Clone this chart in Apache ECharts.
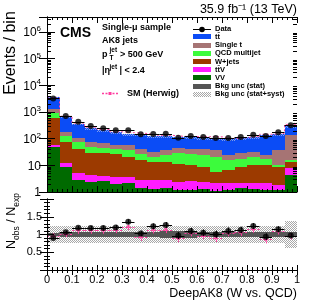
<!DOCTYPE html>
<html><head><meta charset="utf-8">
<script src="https://cdn.jsdelivr.net/npm/echarts@6/dist/echarts.min.js"></script>
<style>html,body{margin:0;padding:0;background:#fff}#c{width:316px;height:303px}</style>
</head><body><div id="c"></div>
<script>
// ---------- data ----------
const binLo = [0,0.05,0.1,0.15,0.2,0.25,0.3,0.35,0.4,0.45,0.5,0.55,0.6,0.65,0.7,0.75,0.8,0.85,0.9,0.95];
const binWidth = 0.05;
const dataCounts = [3200,700,430,300,245,205,205,145,150,152,108,125,115,105,105,115,140,125,172,320];
const ttbar     = [2250,495,257,183,143,114,94,101,91,84,68,73,68,68,71,74,81,110,113,194];
const singleTop = [363,44,31.5,23,23.4,17.8,20.1,13.9,11.3,13.1,13.7,13.2,15.4,16.4,8.5,10.4,11.3,7.5,27.1,120];
const qcd       = [312,55.3,35.7,21.6,15.2,13.9,16.4,10.0,7.4,10.7,18.7,16.2,15.4,15.2,9.1,9.3,10.7,6.5,1.9,2.2];
const wjets     = [517,60.2,35.8,23.8,24.1,22.1,17.5,13.0,10.8,10.9,8.5,7.65,6.5,3.5,4.55,6.3,8.2,8.2,6.6,5.9];
const ttv       = [10.3,4.1,2.2,1.87,1.32,1.74,1.43,1.42,1.5,1.36,1.24,1.46,1.17,1.11,0.93,0.74,0.82,0.93,0.64,3.4];
const vv        = [47,8.4,2.8,2.43,2.65,2.0,2.12,1.38,1.3,1.38,1.19,1.19,1.26,1.12,1.19,1.38,1.3,1.19,1.19,4.3];
const dataRatio    = [0.90,1.06,1.19,1.18,1.18,1.20,1.36,1.03,1.23,1.27,0.97,1.10,1.05,1.01,1.10,1.13,1.24,0.94,1.15,0.97];
const dataRatioErr = [0.02,0.04,0.05,0.06,0.07,0.07,0.07,0.08,0.08,0.08,0.10,0.09,0.09,0.10,0.10,0.09,0.08,0.09,0.08,0.06];
const herwigRatio    = [0.96,1.02,1.12,1.12,1.12,1.14,1.22,0.93,1.13,1.14,0.89,1.05,0.97,0.90,1.05,1.06,1.15,0.86,1.10,0.96];
const herwigRatioErr = [0.08,0.09,0.10,0.10,0.10,0.10,0.10,0.11,0.10,0.10,0.11,0.10,0.10,0.11,0.10,0.10,0.10,0.11,0.10,0.10];
const statUnc = [0.05,0.06,0.06,0.06,0.06,0.06,0.06,0.06,0.06,0.09,0.09,0.09,0.06,0.06,0.06,0.06,0.06,0.07,0.06,0.08];
const systUnc = [0.24,0.24,0.24,0.24,0.24,0.24,0.24,0.24,0.24,0.24,0.24,0.24,0.24,0.24,0.24,0.24,0.24,0.24,0.24,0.38];
const xTickLabels = ['0','0.1','0.2','0.3','0.4','0.5','0.6','0.7','0.8','0.9','1'];
const ratioTickLabels = ['', '0.5', '1', '1.5', ''];
const componentNames = ['VV','t\u0074\u0304V','W+jets','QCD multijet','Single t','t\u0074\u0304'];
const componentColors = ['#006a00','#ff1cff','#9c3a00','#3cfb3c','#a67474','#0b4cf6'];
const legendLabels = ['Data','t\u0074\u0304','Single t','QCD multijet','W+jets','t\u0074\u0304V','VV','Bkg unc (stat)','Bkg unc (stat+syst)'];

// ---------- helpers ----------
const FONT = '"Liberation Sans", Arial, Helvetica, sans-serif';
const PINK = '#ff3fa0';
const DARK = '#555555';
const N = binLo.length;
function makePattern(col) {
  const c = document.createElement('canvas'); c.width = 2; c.height = 2;
  const g = c.getContext('2d'); g.fillStyle = col; g.fillRect(0,0,1,1); g.fillRect(1,1,1,1);
  return { image: c, repeat: 'repeat' };
}
const HATCH = makePattern('#a8a8a8');
const HATCH_LIGHT = makePattern('rgba(220,220,230,0.55)');

function bandRender(fill, floor) {
  return function (params, api) {
    const lo = Math.max(api.value(2), floor), hi = Math.max(api.value(3), floor);
    if (!(hi > lo)) return null;
    const a = api.coord([api.value(0), hi]);
    const b = api.coord([api.value(1), lo]);
    const x = Math.round(a[0]), y = Math.round(a[1]);
    return { type: 'rect', shape: { x: x, y: y, width: Math.round(b[0]) - x, height: Math.round(b[1]) - y }, style: { fill: fill } };
  };
}
function errRender(color, dash) {
  return function (params, api) {
    const x0 = api.value(0), x1 = api.value(1), y = api.value(2), ylo = api.value(3), yhi = api.value(4);
    const pL = api.coord([x0, y]), pR = api.coord([x1, y]);
    const xc = (pL[0] + pR[0]) / 2;
    const pLo = api.coord([(x0 + x1) / 2, ylo]), pHi = api.coord([(x0 + x1) / 2, yhi]);
    const st = { stroke: color, lineWidth: 1, lineDash: dash || null };
    return { type: 'group', children: [
      { type: 'line', shape: { x1: pL[0], y1: Math.round(pL[1]) + 0.5, x2: pR[0], y2: Math.round(pR[1]) + 0.5 }, style: st },
      { type: 'line', shape: { x1: Math.round(xc) + 0.5, y1: pLo[1], x2: Math.round(xc) + 0.5, y2: pHi[1] }, style: st }
    ] };
  };
}

// stacked components (bottom to top)
const comps = [vv, ttv, wjets, qcd, singleTop, ttbar];
const cum = new Array(N).fill(0);
const stackSeries = comps.map(function (arr, ci) {
  const d = arr.map(function (v, i) { const lo = cum[i]; cum[i] = lo + v; return [binLo[i], binLo[i] + binWidth, lo, cum[i]]; });
  return { type: 'custom', name: componentNames[ci], xAxisIndex: 0, yAxisIndex: 0, clip: true, z: 2,
    renderItem: bandRender(componentColors[ci], 1), encode: { x: [0, 1], y: [3] }, data: d };
});
const totals = cum.slice();

// minor log ticks (axis decoration)
const minorVals = [];
for (let k = 0; k <= 6; k++) for (let m = 2; m <= 9; m++) { const v = m * Math.pow(10, k); if (v < 3.6e6) minorVals.push([0, v]); }

const axisCommon = {
  axisLine: { lineStyle: { color: '#000', width: 1 } },
  splitLine: { show: false }, minorSplitLine: { show: false }, z: 10
};
function xAx(grid, pos, labels) {
  return Object.assign({}, axisCommon, {
    gridIndex: grid, type: 'value', min: 0, max: 1, interval: 0.1, position: pos,
    axisTick: { inside: true, length: grid === 0 ? 6 : 5, lineStyle: { color: '#000' } },
    minorTick: { show: true, splitNumber: 5, length: 3, lineStyle: { color: '#000' } },
    axisLabel: labels ? { show: true, color: '#000', fontSize: 11, fontFamily: FONT, margin: 4,
      formatter: function (v) { return xTickLabels[Math.round(v * 10)]; } } : { show: false }
  });
}
function logAx(pos, labels) {
  return Object.assign({}, axisCommon, {
    gridIndex: 0, type: 'log', logBase: 10, min: 1, max: 3.6e6, position: pos,
    axisTick: { inside: true, length: 8, lineStyle: { color: '#000' } },
    axisLabel: labels ? { show: true, margin: 6, color: '#000',
      formatter: function (v) {
        const l = Math.log10(v), e = Math.round(l);
        if (Math.abs(l - e) > 1e-6) return '';
        if (e === 0) return '{b|1}';
        if (e === 1) return '{b|10}';
        return '{b|10}{s|' + e + '}';
      },
      rich: { b: { fontSize: 12, fontFamily: FONT, color: '#000', lineHeight: 14, verticalAlign: 'bottom' },
              s: { fontSize: 8, fontFamily: FONT, color: '#000', lineHeight: 14, verticalAlign: 'top', padding: [0,0,4,0] } } } : { show: false }
  });
}
function ratioAx(pos, labels) {
  return Object.assign({}, axisCommon, {
    gridIndex: 1, type: 'value', min: 0, max: 2, interval: 0.5, position: pos,
    axisTick: { inside: true, length: 7, lineStyle: { color: '#000' } },
    minorTick: { show: true, splitNumber: 5, length: 3, lineStyle: { color: '#000' } },
    axisLabel: labels ? { show: true, color: '#000', fontSize: 11, fontFamily: FONT, margin: 5,
      formatter: function (v) { return ratioTickLabels[Math.round(v * 2)]; } } : { show: false }
  });
}

const series = stackSeries.concat([
  // stat+syst band on stack
  { type: 'custom', xAxisIndex: 0, yAxisIndex: 0, clip: true, z: 3, renderItem: bandRender(HATCH_LIGHT, 1), encode: { x: [0, 1], y: [3] },
    data: totals.map(function (t, i) { return [binLo[i], binLo[i] + binWidth, t * (1 - systUnc[i] * 0.6), t * (1 + systUnc[i] * 0.6)]; }) },
  // SM (Herwig) total
  { type: 'line', xAxisIndex: 0, yAxisIndex: 0, step: 'end', symbol: 'none', z: 4,
    lineStyle: { color: PINK, width: 1, type: [2, 2] },
    data: dataCounts.map(function (d, i) { return [binLo[i], d / herwigRatio[i]]; }).concat([[1, dataCounts[N - 1] / herwigRatio[N - 1]]]) },
  // data bars + points (top)
  { type: 'custom', xAxisIndex: 0, yAxisIndex: 0, z: 5, renderItem: errRender('#000'), encode: { x: [0, 1], y: [2] },
    data: dataCounts.map(function (d, i) { return [binLo[i], binLo[i] + binWidth, d, d, d]; }) },
  { type: 'scatter', name: 'Data', xAxisIndex: 0, yAxisIndex: 0, z: 6, symbolSize: 6, itemStyle: { color: '#000' },
    data: dataCounts.map(function (d, i) { return [binLo[i] + binWidth / 2, d]; }) },
  // minor log ticks left/right
  { type: 'custom', xAxisIndex: 0, yAxisIndex: 0, z: 11, encode: { x: 0, y: 1 }, data: minorVals,
    renderItem: function (params, api) {
      const v = api.value(1); const a = api.coord([0, v]), b = api.coord([1, v]); const y = Math.round(a[1]) + 0.5;
      return { type: 'group', children: [
        { type: 'line', shape: { x1: a[0], y1: y, x2: a[0] + 4, y2: y }, style: { stroke: '#000', lineWidth: 1 } },
        { type: 'line', shape: { x1: b[0] - 4, y1: y, x2: b[0], y2: y }, style: { stroke: '#000', lineWidth: 1 } } ] };
    } },
  // ratio: syst band, stat band
  { type: 'custom', xAxisIndex: 2, yAxisIndex: 2, clip: true, z: 2, renderItem: bandRender(HATCH, -1), encode: { x: [0, 1], y: [2, 3] },
    data: systUnc.map(function (u, i) { return [binLo[i], binLo[i] + binWidth, 1 - u, 1 + u]; }) },
  { type: 'custom', xAxisIndex: 2, yAxisIndex: 2, clip: true, z: 3, renderItem: bandRender(DARK, -1), encode: { x: [0, 1], y: [2, 3] },
    data: statUnc.map(function (u, i) { return [binLo[i], binLo[i] + binWidth, 1 - u, 1 + u]; }) },
  // ratio: Herwig
  { type: 'custom', xAxisIndex: 2, yAxisIndex: 2, clip: true, z: 4, renderItem: errRender(PINK, [2, 1.5]), encode: { x: [0, 1], y: [2] },
    data: herwigRatio.map(function (r, i) { return [binLo[i], binLo[i] + binWidth, r, r - herwigRatioErr[i], r + herwigRatioErr[i]]; }) },
  { type: 'scatter', xAxisIndex: 2, yAxisIndex: 2, z: 5, symbol: 'rect', symbolSize: 3, itemStyle: { color: PINK },
    data: herwigRatio.map(function (r, i) { return [binLo[i] + binWidth / 2, r]; }) },
  // ratio: data
  { type: 'custom', xAxisIndex: 2, yAxisIndex: 2, clip: true, z: 6, renderItem: errRender('#000'), encode: { x: [0, 1], y: [2] },
    data: dataRatio.map(function (r, i) { return [binLo[i], binLo[i] + binWidth, r, r - dataRatioErr[i], r + dataRatioErr[i]]; }) },
  { type: 'scatter', xAxisIndex: 2, yAxisIndex: 2, z: 7, symbolSize: 6, itemStyle: { color: '#000' },
    data: dataRatio.map(function (r, i) { return [binLo[i] + binWidth / 2, r]; }) }
]);

// ---------- graphic (texts & legend) ----------
function txt(text, x, y, size, weight, align, extra) {
  return Object.assign({ type: 'text', x: x, y: y, z: 100, style: { text: text, fill: '#000', fontSize: size, fontFamily: FONT,
    fontWeight: weight || 'normal', align: align || 'left', verticalAlign: 'middle', textAlign: align || 'left', textVerticalAlign: 'middle' } }, extra || {});
}
const graphic = [];
graphic.push(txt('35.9 fb\u207B\u00B9 (13 TeV)', 297, 10, 12.5, 'normal', 'right'));
graphic.push(txt('CMS', 60, 33, 14, 'bold'));
graphic.push(txt('Single-\u03BC sample', 102, 28, 9, 'bold'));
graphic.push(txt('AK8 jets', 102, 41, 9, 'bold'));
graphic.push(txt('p', 102, 55, 9, 'bold'));
graphic.push(txt('jet', 109.5, 50, 6.5, 'bold'));
graphic.push(txt('T', 109.5, 58.5, 6.5, 'bold'));
graphic.push(txt('> 500 GeV', 120, 55, 9, 'bold'));
graphic.push(txt('|\u03B7', 102, 71, 9, 'bold'));
graphic.push(txt('jet', 109.5, 67, 6.5, 'bold'));
graphic.push(txt('| < 2.4', 119.5, 71, 9, 'bold'));
// SM (Herwig)
graphic.push({ type: 'line', z: 100, shape: { x1: 102, y1: 93.5, x2: 118, y2: 93.5 }, style: { stroke: PINK, lineWidth: 1.5, lineDash: [2, 1.5] } });
graphic.push({ type: 'rect', z: 100, shape: { x: 108.5, y: 92, width: 3, height: 3 }, style: { fill: PINK } });
graphic.push(txt('SM (Herwig)', 127, 93.5, 9, 'bold'));
// legend
const legendFills = [null, componentColors[5], componentColors[4], componentColors[3], componentColors[2], componentColors[1], componentColors[0], DARK, HATCH];
legendLabels.forEach(function (lab, i) {
  const y = 28.7 + i * 8.2;
  if (i === 0) {
    graphic.push({ type: 'line', z: 100, shape: { x1: 193, y1: Math.round(y) + 0.5, x2: 211, y2: Math.round(y) + 0.5 }, style: { stroke: '#000', lineWidth: 1 } });
    graphic.push({ type: 'circle', z: 100, shape: { cx: 202, cy: Math.round(y) + 0.5, r: 2.8 }, style: { fill: '#000' } });
  } else {
    graphic.push({ type: 'rect', z: 100, shape: { x: 193, y: Math.round(y - 2.5), width: 18, height: 5 }, style: { fill: legendFills[i] } });
  }
  graphic.push(txt(lab, 215, y, 7.5, 'bold'));
});
// axis titles
graphic.push(txt('Events / bin', 10.5, 53, 16, 'normal', 'center', { rotation: Math.PI / 2 }));
graphic.push({ type: 'text', x: 13, y: 221, z: 100, rotation: Math.PI / 2, style: {
  text: '{n|N}{s|obs}{n| / N}{s|exp}', align: 'center', verticalAlign: 'middle', textAlign: 'center', textVerticalAlign: 'middle',
  rich: { n: { fontSize: 12.5, fontFamily: FONT, fill: '#000', color: '#000', lineHeight: 16, verticalAlign: 'top' },
          s: { fontSize: 8.5, fontFamily: FONT, fill: '#000', color: '#000', lineHeight: 16, verticalAlign: 'bottom' } } } });
graphic.push(txt('DeepAK8 (W vs. QCD)', 297, 294, 12.5, 'normal', 'right'));

const option = {
  animation: false,
  backgroundColor: '#ffffff',
  textStyle: { fontFamily: FONT },
  grid: [ { left: 47, top: 17, width: 250, height: 175 }, { left: 47, top: 199, width: 250, height: 71 } ],
  xAxis: [ xAx(0, 'bottom', false), xAx(0, 'top', false), xAx(1, 'bottom', true), xAx(1, 'top', false) ],
  yAxis: [ logAx('left', true), logAx('right', false), ratioAx('left', true), ratioAx('right', false) ],
  series: series,
  graphic: graphic
};
const chart = echarts.init(document.getElementById('c'), null, { renderer: 'canvas' });
chart.setOption(option);
</script>
</body></html>
